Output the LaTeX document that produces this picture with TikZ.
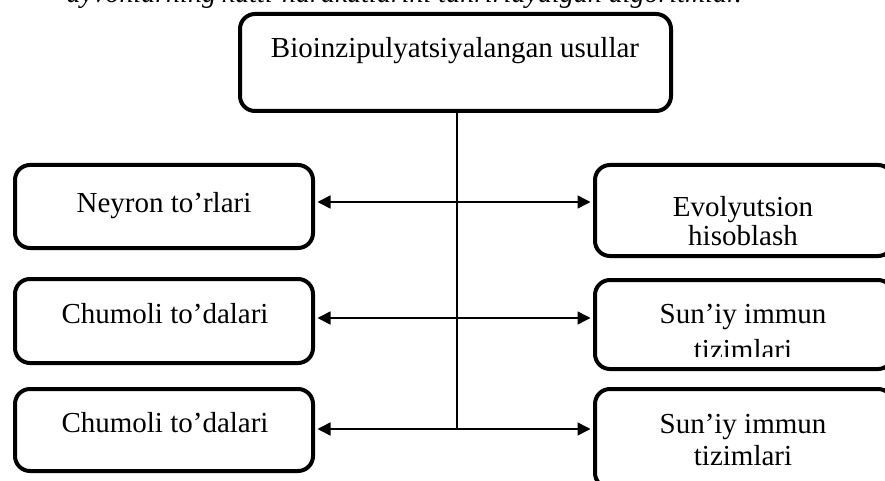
\documentclass[tikz,border=0pt]{standalone}
\usepackage{fontspec}
\setmainfont{Liberation Serif}
\usetikzlibrary{arrows.meta}
\begin{document}
\begin{tikzpicture}[x=1pt,y=-1pt,
  box/.style={draw, line width=4pt, rounded corners=15pt, inner sep=0pt, minimum width=298pt},
  lbl/.style={anchor=base, inner sep=0pt, font=\fontsize{29}{33}\selectfont},
  link/.style={line width=1.5pt, {Triangle[length=13pt,width=13pt]}-{Triangle[length=13pt,width=13pt]}, shorten <=2.5pt, shorten >=2.5pt},
  trunk/.style={line width=1.5pt},
]
\useasboundingbox (0,0) rectangle (885,481);
\clip (0,0) rectangle (885,481);
% cropped caption line at the very top
\node[lbl, anchor=base east, font=\fontsize{28}{32}\selectfont\itshape] (caption) at (742,3) {ayvonlarning xatti-harakatlarini tahrirlaydigan algoritmlar.};
% boxes
\node[box, minimum width=431pt, minimum height=97pt] (top) at (455.5,62.5) {};
\node[box, minimum height=83pt] (l1) at (164,206.5) {};
\node[box, minimum height=84pt] (l2) at (164,321) {};
\node[box, minimum height=82pt] (l3) at (164,430) {};
\node[box, minimum height=91pt] (r1) at (744,210.5) {};
\node[box, minimum height=89pt] (r2) at (744,324.5) {};
\node[box, minimum height=99pt] (r3) at (744,438.5) {};
% texts
\node[lbl] (ttop) at (455,58) {Bioinzipulyatsiyalangan usullar};
\node[lbl] (tl1) at (164,212) {Neyron to’rlari};
\node[lbl] (tl2) at (165,323) {Chumoli to’dalari};
\node[lbl] (tl3) at (165,432) {Chumoli to’dalari};
\node[lbl] (tr1a) at (743,216) {Evolyutsion};
\node[lbl] (tr1b) at (743,245) {hisoblash};
\node[lbl] (tr2a) at (743,323) {Sun’iy immun};
\begin{scope}
\clip (595,280) rectangle (893,356);
\node[lbl] (tr2b) at (743,359) {tizimlari};
\end{scope}
\node[lbl] (tr3a) at (743,433) {Sun’iy immun};
\node[lbl] (tr3b) at (743,465) {tizimlari};
% connectors
\coordinate (j1) at (457,202);
\coordinate (j2) at (457,318);
\coordinate (j3) at (457,429);
\draw[trunk] (top.south -| j1) -- (j3);
\draw[link] (l1.east |- j1) -- (r1.west |- j1);
\draw[link] (l2.east |- j2) -- (r2.west |- j2);
\draw[link] (l3.east |- j3) -- (r3.west |- j3);
\end{tikzpicture}
\end{document}
